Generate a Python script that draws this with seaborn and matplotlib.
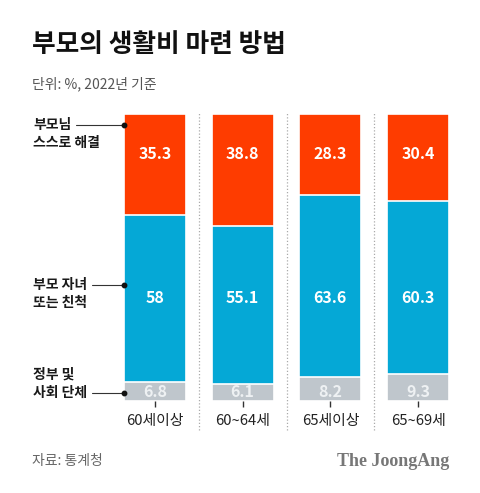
import matplotlib
matplotlib.use('Agg')
import numpy as np
import matplotlib.pyplot as plt
import seaborn as sns

# data (%, 2022)
categories = ['60세이상', '60~64세', '65세이상', '65~69세']
self_pay = [35.3, 38.8, 28.3, 30.4]      # 부모님 스스로 해결
family = [58, 55.1, 63.6, 60.3]          # 부모 자녀 또는 친척
public = [6.8, 6.1, 8.2, 9.3]            # 정부 및 사회 단체
series_names = [['부모님', '스스로 해결'], ['부모 자녀', '또는 친척'], ['정부 및', '사회 단체']]

RED = '#fe3c00'
BLUE = '#05a8d6'
GRAY = '#bfc6cc'

sns.set_style('white')
plt.rcParams['font.family'] = ['Noto Sans CJK KR', 'DejaVu Sans']

W, H = 480, 493
fig = plt.figure(figsize=(W / 100, H / 100), dpi=100)
ax = fig.add_axes([111 / W, 1 - 401 / H, 351 / W, 287 / H])

self_pay = np.array(self_pay)
family = np.array(family)
public = np.array(public)
total = self_pay + family + public
mid = family + public

# stacked bars drawn as layered cumulative bars
for heights, col in [(total, RED), (mid, BLUE), (public, GRAY)]:
    sns.barplot(x=categories, y=heights, color=col, width=0.705, ax=ax,
                edgecolor='white', linewidth=1.2, saturation=1)

ax.set_xlim(-0.5, 3.5)
ax.set_ylim(0, total.max())
sns.despine(ax=ax, left=True, bottom=True)
ax.set_yticks([])
ax.set_xticks(range(len(categories)))
ax.set_xticklabels(categories, fontsize=10.7, color='#222222')
ax.tick_params(axis='x', bottom=True, length=4.5, width=1, color='#333333', pad=5)

# value labels
for i in range(len(categories)):
    ax.text(i, 86, f'{self_pay[i]:g}', ha='center', va='center',
            color='white', fontsize=11.5, fontweight='bold')
    ax.text(i, 36, f'{family[i]:g}', ha='center', va='center',
            color='white', fontsize=11.5, fontweight='bold')
    ax.text(i, 3.3, f'{public[i]:g}', ha='center', va='center',
            color='#eef1f3', fontsize=11.5, fontweight='bold')

# dotted separators
for x in [0.5, 1.5, 2.5]:
    ax.plot([x, x], [-10, 100.7], ls=(0, (1, 1.6)), color='#aaaaaa', lw=0.9,
            clip_on=False)

# series labels on the left
renderer = fig.canvas.get_renderer()
label_rows = [(125, 143.5, 0), (285, 303, 0), (375, 393, 1)]
for names, (y1, y2, row) in zip(series_names, label_rows):
    texts = []
    for name, yy in zip(names, (y1, y2)):
        t = fig.text(33 / W, 1 - yy / H, name, ha='left', va='center',
                     fontsize=10, fontweight='bold', color='#1a1a1a')
        texts.append(t)
    bb = texts[row].get_window_extent(renderer)
    yy = (y1, y2)[row]
    x0 = bb.x1 + 5
    x1 = 124
    fig.add_artist(plt.Line2D([x0 / W, x1 / W], [1 - yy / H, 1 - yy / H],
                              color='#333333', lw=0.8))
    fig.add_artist(plt.Line2D([x1 / W], [1 - yy / H], marker='o', ms=3.2,
                              color='#111111', lw=0))

# titles and footers
fig.text(32 / W, 1 - 44.5 / H, '부모의 생활비 마련 방법', ha='left', va='center',
         fontsize=18.5, fontweight='bold', color='#111111')
fig.text(32 / W, 1 - 84 / H, '단위: %, 2022년 기준', ha='left', va='center',
         fontsize=10, color='#555555')
fig.text(32 / W, 1 - 461 / H, '자료: 통계청', ha='left', va='center',
         fontsize=10, color='#666666')
fig.text(449 / W, 1 - 461 / H, 'The JoongAng', ha='right', va='center',
         fontsize=13, fontweight='bold', color='#777777',
         family=['Liberation Serif', 'DejaVu Serif'])

fig.savefig('out.png', dpi=100, facecolor='white')
